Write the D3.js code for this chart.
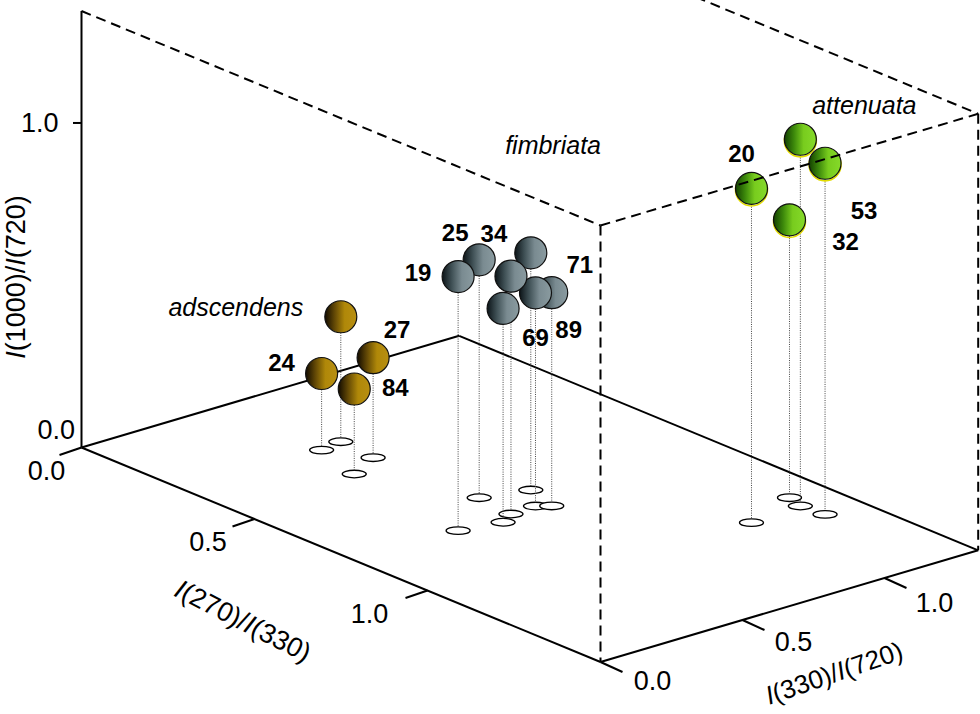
<!DOCTYPE html>
<html>
<head>
<meta charset="utf-8">
<script src="https://cdn.jsdelivr.net/npm/d3@7/dist/d3.min.js"></script>
<style>
  html, body { margin: 0; padding: 0; background: #fff; }
  svg { display: block; font-family: "Liberation Sans", Arial, sans-serif; }
</style>
</head>
<body>
<svg id="chart" width="980" height="714"></svg>
<script>
// ---------------- DATA ----------------
const groupNames = ["adscendens", "fimbriata", "attenuata"];

// adscendens
const adscendensLabels = ["", "27", "24", "84"];
const adscendensX = [0.289, 0.393, 0.300, 0.437];   // I(270)/I(330)
const adscendensY = [0.561, 0.548, 0.480, 0.428];   // I(330)/I(720)
const adscendensZ = [0.385, 0.308, 0.236, 0.262];   // I(1000)/I(720)

// fimbriata
const fimbriataLabels = ["25", "19", "34", "71", "", "69", "89"];
const fimbriataX = [0.684, 0.793, 0.789, 0.715, 0.813, 0.786, 0.805];
const fimbriataY = [0.567, 0.360, 0.551, 0.711, 0.494, 0.641, 0.675];
const fimbriataZ = [0.733, 0.783, 0.733, 0.731, 0.659, 0.657, 0.657];

// attenuata
const attenuataLabels = ["20", "", "53", "32"];
const attenuataX = [1.114, 1.105, 1.169, 1.058];
const attenuataY = [1.002, 1.185, 1.194, 1.204];
const attenuataZ = [1.030, 1.130, 1.082, 0.856];

// ticks
const xTicks = [0.0, 0.5, 1.0];
const yTicks = [0.0, 0.5, 1.0];
const zTicks = [0.0, 1.0];
const xTitle = "I(270)/I(330)";
const yTitle = "I(330)/I(720)";
const zTitle = "I(1000)/I(720)";

// ---------------- LAYOUT / STYLE ----------------
const W = 980, H = 714;
const origin = [81.5, 447.5];
const domains = { x: [0, 1.5], y: [0, 1.33], z: [0, 1.345] };
const axisVec = { x: [519, 214.5], y: [377.7, -111.7], z: [0, -436.5] };

const styles = {
  adscendens: { stops: [["0%", "#110a00"], ["30%", "#614705"], ["62%", "#b08809"], ["100%", "#b88f12"]], rim: null },
  fimbriata:  { stops: [["0%", "#0b1317"], ["30%", "#3f5055"], ["62%", "#7a8b91"], ["100%", "#8a9ba0"]], rim: null },
  attenuata:  { stops: [["0%", "#134000"], ["30%", "#3c880b"], ["60%", "#78cc1e"], ["100%", "#86da2a"]], rim: "#e2dc00" }
};
const labelOffsets = {
  "24": [-40, -11], "27": [24, -28], "84": [41, -2],
  "19": [-40, -4], "25": [-24, -27], "34": [-17, -43], "71": [49, 12], "69": [0, 45], "89": [17, 37],
  "20": [-10, -35], "53": [39, 47], "32": [56, 22]
};
const groupLabelOffsets = { adscendens: [-105, -10], fimbriata: [50, -163], attenuata: [64, -34] };
const R = 16, RX = 12, RY = 3.8;

// ---------------- SCALES / PROJECTION ----------------
const xs = d3.scaleLinear().domain(domains.x).range([0, 1]);
const ys = d3.scaleLinear().domain(domains.y).range([0, 1]);
const zs = d3.scaleLinear().domain(domains.z).range([0, 1]);
function P(x, y, z) {
  const a = xs(x), b = ys(y), c = zs(z);
  return [
    origin[0] + a * axisVec.x[0] + b * axisVec.y[0] + c * axisVec.z[0],
    origin[1] + a * axisVec.x[1] + b * axisVec.y[1] + c * axisVec.z[1]
  ];
}
const X1 = domains.x[1], Y1 = domains.y[1], Z1 = domains.z[1];

const svg = d3.select("#chart");
svg.append("rect").attr("width", W).attr("height", H).attr("fill", "#fff");

// gradients
const defs = svg.append("defs");
groupNames.forEach(g => {
  const lg = defs.append("linearGradient").attr("id", "grad-" + g)
    .attr("x1", "0").attr("y1", "0").attr("x2", "1").attr("y2", "0");
  styles[g].stops.forEach(s => lg.append("stop").attr("offset", s[0]).attr("stop-color", s[1]));
});

const line = d3.line();
function seg(a, b, dashed) {
  svg.append("path").attr("d", line([a, b]))
    .attr("fill", "none").attr("stroke", "#000").attr("stroke-width", 2)
    .attr("stroke-dasharray", dashed ? "10,6" : null);
}

// floor + axes (solid)
seg(P(0, 0, 0), P(0, Y1, 0));
seg(P(0, Y1, 0), P(X1, Y1, 0));
seg(P(0, 0, 0), P(X1, 0, 0));
seg(P(X1, 0, 0), P(X1, Y1, 0));
seg(P(0, 0, 0), P(0, 0, Z1));

// ticks
xTicks.forEach(v => {
  const p = P(v, 0, 0);
  seg(p, [p[0] - 22, p[1] + 7.5]);
  svg.append("text").attr("x", p[0] - 35 - 23 * v).attr("y", p[1] + 23)
    .attr("text-anchor", "middle").attr("dominant-baseline", "central")
    .attr("font-size", 27).text(v.toFixed(1));
});
yTicks.forEach(v => {
  const p = P(X1, v, 0);
  seg(p, [p[0] + 22, p[1] + 10]);
  svg.append("text").attr("x", p[0] + 52 - 2 * v).attr("y", p[1] + 19 + 6 * v)
    .attr("text-anchor", "middle").attr("dominant-baseline", "central")
    .attr("font-size", 27).text(v.toFixed(1));
});
const zLabelOff = [[-6.5, -17.5], [-23, 0]];
zTicks.forEach((v, i) => {
  const p = P(0, 0, v);
  if (v > 0) seg(p, [p[0] - 8.5, p[1]]);
  svg.append("text").attr("x", p[0] + zLabelOff[i][0]).attr("y", p[1] + zLabelOff[i][1])
    .attr("text-anchor", "end").attr("dominant-baseline", "central")
    .attr("font-size", 27).text(v.toFixed(1));
});

// axis titles with italic I
function title(txt, x, y, rot, fs) {
  const t = svg.append("text").attr("text-anchor", "middle").attr("dominant-baseline", "central")
    .attr("font-size", fs).attr("transform", `translate(${x},${y}) rotate(${rot})`);
  txt.split(/(I)/).filter(s => s.length).forEach(s => {
    t.append("tspan").attr("font-style", s === "I" ? "italic" : null).text(s);
  });
}
title(zTitle, 16, 277, -90, 27);
title(xTitle, 243, 621, 27, 27);
title(yTitle, 834, 673, -19, 26);

// points
const groups = {
  adscendens: { lab: adscendensLabels, x: adscendensX, y: adscendensY, z: adscendensZ },
  fimbriata: { lab: fimbriataLabels, x: fimbriataX, y: fimbriataY, z: fimbriataZ },
  attenuata: { lab: attenuataLabels, x: attenuataX, y: attenuataY, z: attenuataZ }
};
let pts = [];
groupNames.forEach(g => {
  const G = groups[g];
  G.x.forEach((xv, i) => {
    const s = P(xv, G.y[i], 0), b = P(xv, G.y[i], G.z[i]);
    pts.push({ g, label: G.lab[i], s, b });
  });
});

// shadows
const shadowLayer = svg.append("g");
pts.forEach(d => {
  shadowLayer.append("ellipse").attr("cx", d.s[0]).attr("cy", d.s[1]).attr("rx", RX).attr("ry", RY)
    .attr("fill", "#fff").attr("stroke", "#000").attr("stroke-width", 1.3);
});
// stems
const stemLayer = svg.append("g");
pts.forEach(d => {
  stemLayer.append("path").attr("d", line([[d.b[0], d.b[1] + R], [d.s[0], d.s[1] - RY]]))
    .attr("stroke", "#444").attr("stroke-width", 1).attr("stroke-dasharray", "1,1.3").attr("fill", "none");
});
// balls sorted back to front
const ballLayer = svg.append("g");
pts.slice().sort((a, b) => (a.s[1] - 0.05 * a.s[0]) - (b.s[1] - 0.05 * b.s[0])).forEach(d => {
  const st = styles[d.g];
  if (st.rim) {
    ballLayer.append("circle").attr("cx", d.b[0]).attr("cy", d.b[1] + 1.6).attr("r", R)
      .attr("fill", "none").attr("stroke", st.rim).attr("stroke-width", 1.6);
  }
  ballLayer.append("circle").attr("cx", d.b[0]).attr("cy", d.b[1]).attr("r", R)
    .attr("fill", `url(#grad-${d.g})`).attr("stroke", "#111").attr("stroke-width", 1.2);
});

// dashed box edges (drawn over the balls)
seg(P(0, 0, Z1), P(X1, 0, Z1), true);
seg(P(X1, 0, Z1), P(X1, 0, 0), true);
seg(P(X1, 0, Z1), P(X1, Y1, Z1), true);
seg(P(X1, Y1, Z1), P(X1, Y1, 0), true);
seg(P(0, Y1, Z1), P(X1, Y1, Z1), true);

// point labels
pts.filter(d => d.label).forEach(d => {
  const o = labelOffsets[d.label] || [0, -30];
  svg.append("text").attr("x", d.b[0] + o[0]).attr("y", d.b[1] + o[1])
    .attr("text-anchor", "middle").attr("dominant-baseline", "central")
    .attr("font-size", 24).attr("font-weight", "bold").text(d.label);
});
// group labels, anchored to the group's unlabeled point
groupNames.forEach(g => {
  const ref = pts.find(d => d.g === g && !d.label);
  const o = groupLabelOffsets[g];
  svg.append("text").attr("x", ref.b[0] + o[0]).attr("y", ref.b[1] + o[1])
    .attr("text-anchor", "middle").attr("dominant-baseline", "central")
    .attr("font-size", 25).attr("font-style", "italic").text(g);
});
</script>
</body>
</html>
